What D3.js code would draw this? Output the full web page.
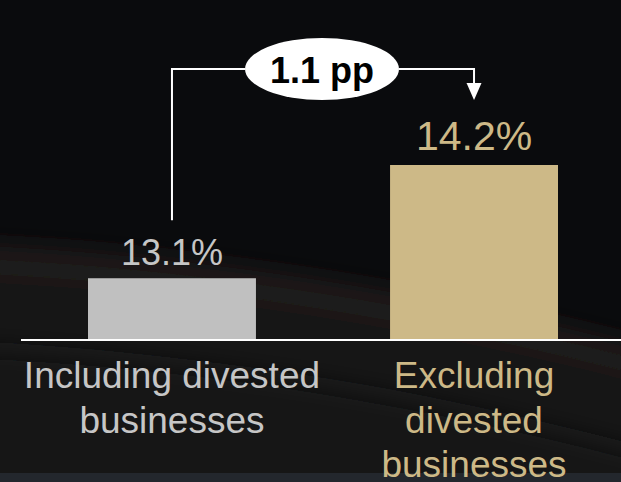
<!DOCTYPE html>
<html>
<head>
<meta charset="utf-8">
<script src="https://cdn.jsdelivr.net/npm/d3@7"></script>
<style>
  html, body { margin: 0; padding: 0; background: #0a0b0d; }
  svg { display: block; }
</style>
</head>
<body>
<svg id="chart" width="621" height="482"></svg>
<script>
// chart values
var categories = ["Including divested businesses", "Excluding divested businesses"];
var labelLines = [["Including divested", "businesses"], ["Excluding", "divested", "businesses"]];
var values = [13.1, 14.2];
var valueLabels = ["13.1%", "14.2%"];
var deltaLabel = "1.1 pp";

var barColors = ["#c0c0c0", "#cdb987"];
var textColors = ["#c6c6c6", "#cdb987"];

var svg = d3.select("#chart");
var W = 621, H = 482;
var font = "Liberation Sans, Arial, sans-serif";

// background: dark sky with planet horizon
var defs = svg.append("defs");
var glow = defs.append("filter").attr("id", "glow")
  .attr("filterUnits", "userSpaceOnUse")
  .attr("x", -50).attr("y", -50).attr("width", W + 100).attr("height", H + 100);
glow.append("feGaussianBlur").attr("stdDeviation", 12);

svg.append("rect").attr("width", W).attr("height", H).attr("fill", "#0a0b0d");

// planet (huge circle, only the rim is visible)
var planet = { cx: -178, cy: 3492, r: 3246 };
var bg = svg.append("g").attr("filter", "url(#glow)");
bg.append("circle")
  .attr("cx", planet.cx).attr("cy", planet.cy).attr("r", planet.r)
  .attr("fill", "#141517");
bg.append("circle")
  .attr("cx", planet.cx).attr("cy", planet.cy).attr("r", planet.r - 10)
  .attr("fill", "none")
  .attr("stroke", "#231f1b")
  .attr("stroke-width", 28);
svg.append("circle")
  .attr("cx", planet.cx).attr("cy", planet.cy).attr("r", planet.r - 100)
  .attr("fill", "#121417")
  .attr("filter", "url(#glow)");

// bottom strip
svg.append("rect")
  .attr("x", 0).attr("y", 473).attr("width", W).attr("height", H - 473)
  .attr("fill", "#23272d");

// scales
var x = d3.scaleBand()
  .domain(categories)
  .range([88, 558])
  .paddingInner(0.444)
  .paddingOuter(0);

var y = d3.scaleLinear()
  .domain([12.5, 14.2])
  .range([340, 165]);

// bars
svg.selectAll("rect.bar")
  .data(values)
  .enter()
  .append("rect")
  .attr("class", "bar")
  .attr("x", function(d, i){ return x(categories[i]); })
  .attr("y", function(d){ return y(d); })
  .attr("width", x.bandwidth())
  .attr("height", function(d){ return y.range()[0] - y(d); })
  .attr("fill", function(d, i){ return barColors[i]; });

// baseline
svg.append("line")
  .attr("x1", 21).attr("x2", W)
  .attr("y1", y.range()[0]).attr("y2", y.range()[0])
  .attr("stroke", "#ffffff")
  .attr("stroke-width", 2);

// value labels
svg.selectAll("text.value")
  .data(values)
  .enter()
  .append("text")
  .attr("class", "value")
  .attr("x", function(d, i){ return x(categories[i]) + x.bandwidth() / 2; })
  .attr("y", function(d, i){ return y(d) - (i == 0 ? 13 : 15); })
  .attr("text-anchor", "middle")
  .attr("font-family", font)
  .attr("font-size", function(d, i){ return i == 0 ? 36 : 41; })
  .attr("fill", function(d, i){ return textColors[i]; })
  .text(function(d, i){ return valueLabels[i]; });

// category labels
categories.forEach(function(c, i){
  var t = svg.append("text")
    .attr("x", x(c) + x.bandwidth() / 2)
    .attr("y", 388)
    .attr("text-anchor", "middle")
    .attr("font-family", font)
    .attr("font-size", 37)
    .attr("fill", textColors[i]);
  labelLines[i].forEach(function(line, j){
    t.append("tspan")
      .attr("x", x(c) + x.bandwidth() / 2)
      .attr("dy", j == 0 ? 0 : 44.5)
      .text(line);
  });
});

// difference annotation
var xl = x(categories[0]) + x.bandwidth() / 2;
var xr = x(categories[1]) + x.bandwidth() / 2;
var yTop = 69;
var ex = 322, rx = 77, ry = 31;

svg.append("path")
  .attr("d", "M" + xl + "," + (y(values[0]) - 58) + "V" + yTop + "H" + (ex - rx)
    + "M" + (ex + rx) + "," + yTop + "H" + xr + "V" + (y(values[1]) - 80))
  .attr("fill", "none")
  .attr("stroke", "#ffffff")
  .attr("stroke-width", 2);

svg.append("path")
  .attr("d", "M" + (xr - 7.5) + "," + (y(values[1]) - 82) + "L" + (xr + 7.5) + "," + (y(values[1]) - 82)
    + "L" + xr + "," + (y(values[1]) - 65) + "Z")
  .attr("fill", "#ffffff");

svg.append("ellipse")
  .attr("cx", ex).attr("cy", yTop)
  .attr("rx", rx).attr("ry", ry)
  .attr("fill", "#ffffff");

svg.append("text")
  .attr("x", ex)
  .attr("y", yTop + 14)
  .attr("text-anchor", "middle")
  .attr("font-family", font)
  .attr("font-weight", "bold")
  .attr("font-size", 36)
  .attr("fill", "#000000")
  .text(deltaLabel);
</script>
</body>
</html>
